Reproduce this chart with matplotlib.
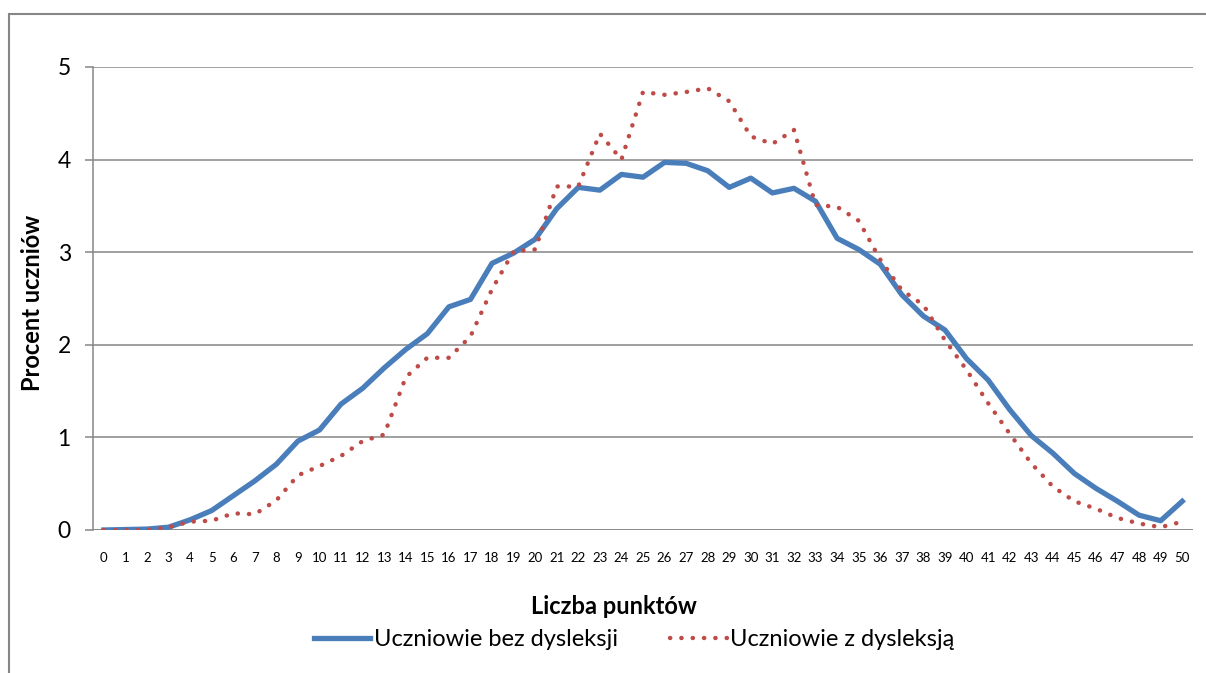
import numpy as np
import matplotlib
matplotlib.use("Agg")
import matplotlib.pyplot as plt
from matplotlib.patches import Rectangle

plt.rcParams['font.family'] = ['Lato', 'DejaVu Sans']

# punkty 0..50
punkty = list(range(51))

# procent uczniow bez dysleksji
bez_dysleksji = [0.0, 0.005, 0.01, 0.03, 0.11, 0.21, 0.37, 0.53, 0.71, 0.96,
                 1.08, 1.36, 1.53, 1.75, 1.95, 2.12, 2.41, 2.49, 2.88, 2.99,
                 3.14, 3.47, 3.70, 3.67, 3.84, 3.81, 3.97, 3.96, 3.88, 3.70,
                 3.80, 3.64, 3.69, 3.55, 3.15, 3.03, 2.87, 2.54, 2.31, 2.16,
                 1.85, 1.62, 1.30, 1.02, 0.83, 0.61, 0.45, 0.31, 0.16, 0.10,
                 0.31]

# procent uczniow z dysleksja
z_dysleksja = [0.0, 0.0, 0.0, 0.03, 0.09, 0.10, 0.18, 0.17, 0.32, 0.59,
               0.69, 0.80, 0.96, 1.03, 1.65, 1.86, 1.86, 2.09, 2.60, 3.01,
               3.03, 3.71, 3.71, 4.28, 4.00, 4.73, 4.70, 4.73, 4.77, 4.63,
               4.25, 4.17, 4.32, 3.51, 3.49, 3.34, 2.92, 2.59, 2.43, 2.05,
               1.73, 1.37, 1.04, 0.72, 0.47, 0.31, 0.23, 0.13, 0.07, 0.03,
               0.09]

fig = plt.figure(figsize=(12.06, 6.73), dpi=100)
ax = fig.add_axes([93/1206, 1 - 530/673, 1100/1206, 463/673])

grid_col = '#868686'

ax.plot(punkty, bez_dysleksji, color='#4A7EBB', lw=3.8,
        solid_joinstyle='round', label='Uczniowie bez dysleksji', zorder=3)
ax.plot(punkty, z_dysleksja, color='#BE4B48', lw=3.2,
        linestyle=(0, (0.05, 2.5)), dash_capstyle='round',
        label='Uczniowie z dysleksją', zorder=4)

ax.set_xlim(-0.5, 50.5)
ax.set_ylim(0, 5)
ax.set_yticks(range(6))
ax.set_xticks(punkty)
ax.set_xticklabels([str(p) for p in punkty], fontsize=9.5)
ax.tick_params(axis='x', length=0, pad=16)
ax.tick_params(axis='y', labelsize=16.5, length=6, width=1.1, color=grid_col, pad=10)
ax.yaxis.grid(True, color=grid_col, lw=1.1)
ax.set_axisbelow(True)
for s in ['top', 'right', 'bottom']:
    ax.spines[s].set_visible(False)
ax.spines['left'].set_color(grid_col)
ax.spines['left'].set_linewidth(1.1)
ax.axhline(0, color=grid_col, lw=1.1, zorder=1)

fig.text(33/1206, 1 - 303/673, 'Procent uczniów', fontsize=17,
         fontweight='bold', rotation=90, ha='center', va='center')
fig.text(614/1206, 1 - 607/673, 'Liczba punktów', fontsize=17,
         fontweight='bold', ha='center', va='center')

fig.legend(loc='center', bbox_to_anchor=(634/1206, 1 - 640/673), ncol=2,
           frameon=False, fontsize=17, handlelength=2.4, columnspacing=2.2,
           handletextpad=0.15)

# ramka obszaru wykresu
fig.patches.append(Rectangle((9/1206, -0.1), 1.2, 1 - 14/673 + 0.1,
                             transform=fig.transFigure, fill=False,
                             edgecolor=grid_col, lw=1.5))

fig.savefig('out.png', dpi=100)
